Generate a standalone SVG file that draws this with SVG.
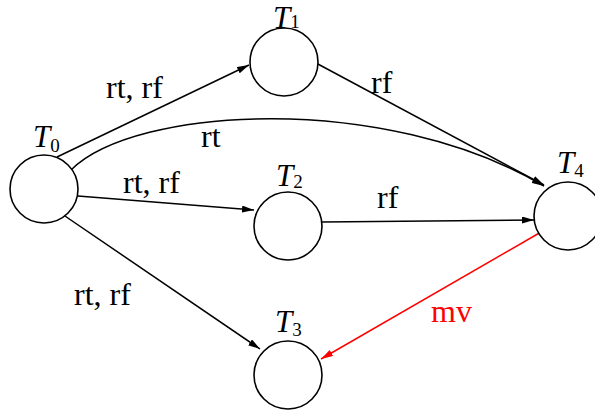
<svg xmlns="http://www.w3.org/2000/svg" width="595" height="414" viewBox="0 0 595 414">
<style>
.node{fill:#fff;stroke:#000;stroke-width:1.6}
.lbl{font-family:"Liberation Serif",serif;font-size:32px;fill:#000}
.tn{font-family:"Liberation Serif",serif;font-size:31px;font-style:italic;fill:#000}
.sub{font-family:"Liberation Serif",serif;font-size:19px;font-style:normal}
.e{fill:none;stroke:#000;stroke-width:1.5}
.r{stroke:#f00}
</style>
<defs>
<marker id="ah" markerUnits="userSpaceOnUse" markerWidth="13" markerHeight="8" refX="12" refY="3.5" orient="auto"><path d="M0,0 L12,3.5 L0,7 z" fill="#000"/></marker>
<marker id="ahr" markerUnits="userSpaceOnUse" markerWidth="13" markerHeight="8" refX="12" refY="3.5" orient="auto"><path d="M0,0 L12,3.5 L0,7 z" fill="#f00"/></marker>
</defs>
<rect width="595" height="414" fill="#fff"/>
<g id="connectors">
<line class="e" x1="57" y1="157" x2="249" y2="65" marker-end="url(#ah)"/>
<path class="e" d="M71,170 C135,106 385,92 544,186" marker-end="url(#ah)"/>
<line class="e" x1="78" y1="196" x2="254" y2="210" marker-end="url(#ah)"/>
<line class="e" x1="62" y1="214" x2="260" y2="349" marker-end="url(#ah)"/>
<line class="e" x1="316" y1="63" x2="544" y2="185" marker-end="url(#ah)"/>
<line class="e" x1="322" y1="222" x2="534" y2="220" marker-end="url(#ah)"/>
<line class="e r" x1="541" y1="232" x2="321" y2="359" marker-end="url(#ahr)"/>
<text class="lbl" x="106" y="98">rt, rf</text>
<text class="lbl" x="201" y="147">rt</text>
<text class="lbl" x="123" y="193">rt, rf</text>
<text class="lbl" x="74" y="305">rt, rf</text>
<text class="lbl" x="371" y="93">rf</text>
<text class="lbl" x="377" y="208">rf</text>
<text class="lbl" x="431" y="322" style="fill:#f00">mv</text>
</g>
<g id="T0"><circle class="node" cx="44" cy="189" r="34"/><text class="tn" x="33" y="147">T<tspan class="sub" dy="5">0</tspan></text></g>
<g id="T1"><circle class="node" cx="284" cy="62" r="34"/><text class="tn" x="273" y="28">T<tspan class="sub" dy="0">1</tspan></text></g>
<g id="T2"><circle class="node" cx="288" cy="226" r="34"/><text class="tn" x="276" y="186">T<tspan class="sub" dy="2">2</tspan></text></g>
<g id="T3"><circle class="node" cx="288" cy="375" r="34"/><text class="tn" x="275" y="332">T<tspan class="sub" dy="4">3</tspan></text></g>
<g id="T4"><circle class="node" cx="568" cy="216" r="34"/><text class="tn" x="557" y="173">T<tspan class="sub" dy="4">4</tspan></text></g>
</svg>
